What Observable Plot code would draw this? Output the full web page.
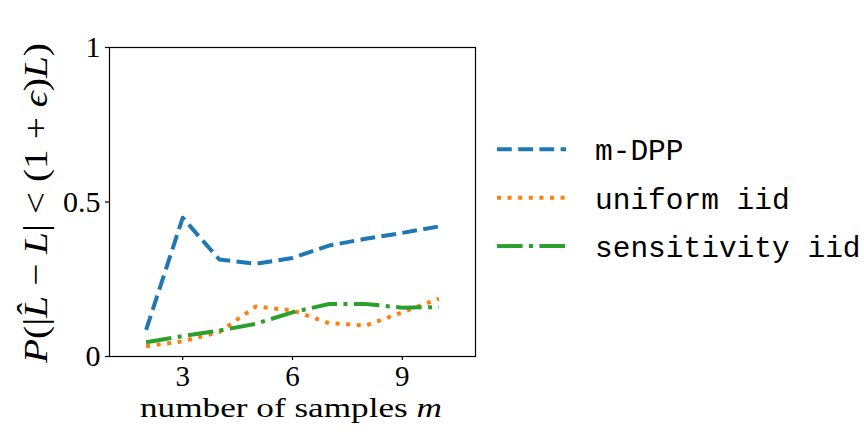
<!DOCTYPE html>
<html>
<head>
<meta charset="utf-8">
<script src="https://cdn.jsdelivr.net/npm/d3@7"></script>
<script src="https://cdn.jsdelivr.net/npm/@observablehq/plot@0.6"></script>
<style>
  html, body { margin: 0; padding: 0; background: white; }
  #chart { width: 864px; height: 432px; }
</style>
</head>
<body>
<div id="chart"></div>
<script>
const m = [2, 3, 4, 5, 6, 7, 8, 9, 10];
const mdpp = [0.086, 0.449, 0.314, 0.300, 0.319, 0.359, 0.381, 0.400, 0.421];
const uniformIid = [0.033, 0.049, 0.079, 0.162, 0.149, 0.108, 0.100, 0.143, 0.187];
const sensitivityIid = [0.046, 0.066, 0.084, 0.106, 0.143, 0.170, 0.170, 0.158, 0.160];
const seriesNames = ["m-DPP", "uniform iid", "sensitivity iid"];
const seriesValues = [mdpp, uniformIid, sensitivityIid];
const colors = ["#1f77b4", "#ff7f0e", "#2ca02c"];
const dashes = ["14.8,6.4", "4,6.6", "25.6,6.4,4,6.4"];
const xTicks = [3, 6, 9];
const yTicks = [0, 0.5, 1];
const yTickLabels = ["0", "0.5", "1"];

const rows = seriesNames.flatMap((name, s) =>
  m.map((x, i) => ({ series: name, m: x, p: seriesValues[s][i] })));

const lineMarks = seriesNames.map((name, s) =>
  Plot.line(rows.filter(d => d.series === name), {
    x: "m", y: "p",
    stroke: colors[s], strokeWidth: 4,
    strokeDasharray: dashes[s],
    strokeLinecap: "butt", strokeLinejoin: "round"
  }));

const chart = Plot.plot({
  width: 864,
  height: 432,
  marginLeft: 109,
  marginRight: 389,
  marginTop: 47,
  marginBottom: 76,
  style: { fontFamily: "Liberation Serif", fontSize: "29px", background: "white", color: "black", overflow: "visible" },
  x: { domain: [1, 11] },
  y: { domain: [0, 1] },
  marks: [
    ...lineMarks,
    Plot.frame({ stroke: "black", strokeWidth: 1.2 }),
    Plot.axisX({ ticks: xTicks, tickSize: 4, tickPadding: 5, label: null, fontSize: 29, strokeWidth: 1.2 }),
    Plot.axisY({ ticks: yTicks, tickFormat: d => yTickLabels[yTicks.indexOf(d)], tickSize: 4, tickPadding: 5, label: null, fontSize: 30, strokeWidth: 1.2 })
  ]
});
document.getElementById("chart").appendChild(chart);

const svg = d3.select(chart);

// x label
const xl = svg.append("text")
  .attr("x", 140).attr("y", 417)
  .attr("text-anchor", "start")
  .attr("font-family", "Liberation Serif").attr("font-size", 28)
  .attr("fill", "black")
  .attr("textLength", 302).attr("lengthAdjust", "spacingAndGlyphs");
xl.append("tspan").text("number of samples ");
xl.append("tspan").attr("font-style", "italic").text("m");

// y label
const yl = svg.append("text")
  .attr("transform", "translate(47,363) rotate(-90)")
  .attr("text-anchor", "start")
  .attr("font-family", "Liberation Serif").attr("font-size", 34)
  .attr("fill", "black")
  .attr("textLength", 320).attr("lengthAdjust", "spacingAndGlyphs");
const parts = [["P", true], ["(|", false], ["L\u0302", true], [" \u2212 ", false], ["L", true],
  ["| < (1 + ", false], ["\u03F5", true], [")", false], ["L", true], [")", false]];
parts.forEach(([t, it]) => yl.append("tspan").attr("font-style", it ? "italic" : "normal").text(t));

// legend
const lg = svg.append("g");
seriesNames.forEach((name, s) => {
  const y = 149.3 + 48.4 * s;
  lg.append("line")
    .attr("x1", 497).attr("x2", 566).attr("y1", y).attr("y2", y)
    .attr("stroke", colors[s]).attr("stroke-width", 4)
    .attr("stroke-dasharray", dashes[s]).attr("stroke-linecap", "butt");
  lg.append("text")
    .attr("x", 595).attr("y", y + 11)
    .attr("text-anchor", "start")
    .attr("font-family", "Liberation Mono").attr("font-size", 29.5)
    .attr("fill", "black")
    .text(name);
});
</script>
</body>
</html>
